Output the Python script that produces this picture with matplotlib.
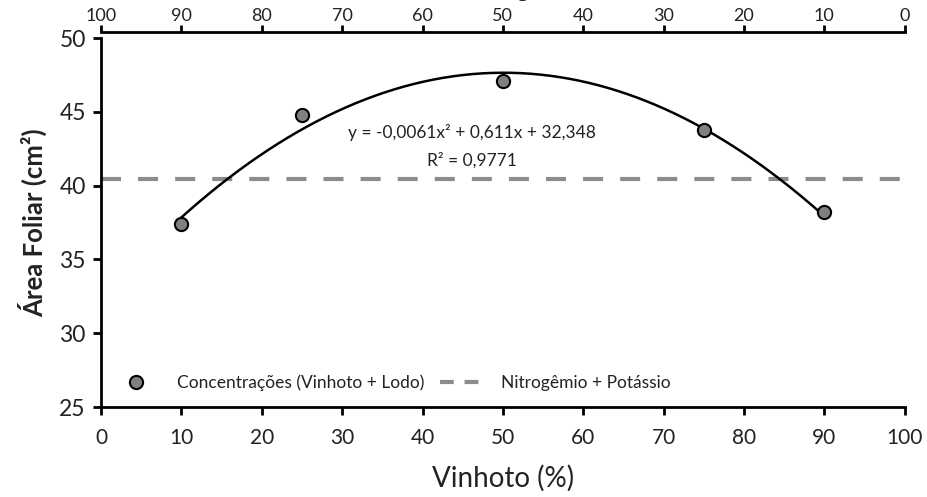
import numpy as np
import matplotlib.pyplot as plt
from matplotlib.lines import Line2D

plt.rcParams['font.family'] = ['Lato', 'DejaVu Sans']

# Data
vinhoto = [10, 25, 50, 75, 90]
area_foliar = [37.4, 44.8, 47.1, 43.8, 38.2]
n_k_level = 40.45
# Polynomial trendline coefficients shown on the chart
coef = [-0.0061, 0.611, 32.348]
top_ticks = [100, 90, 80, 70, 60, 50, 40, 30, 20, 10, 0]

fig = plt.figure(figsize=(9.27, 4.97), dpi=100)
ax = fig.add_axes([0.109, 0.181, 0.867, 0.7425])

# Trendline
xs = np.linspace(10, 90, 200)
ax.plot(xs, np.polyval(coef, xs), color='black', lw=1.8, zorder=3)

# Reference line
ax.axhline(n_k_level, color='#8c8c8c', lw=3, dashes=(4.8, 4.1), zorder=2)

# Points
pts, = ax.plot(vinhoto, area_foliar, 'o', ms=9.5, mfc='#808080', mec='black', mew=1.5,
    zorder=4)

ax.text(46.2, 43.6, 'y = -0,0061x² + 0,611x + 32,348', ha='center', va='center',
    fontsize=12.5, color='#222222')
ax.text(46.2, 41.7, 'R² = 0,9771', ha='center', va='center',
    fontsize=12.5, color='#222222')

ax.set_xlim(0, 100)
ax.set_ylim(25, 50)
ax.set_xticks(range(0, 101, 10))
ax.set_yticks(range(25, 51, 5))
ax.set_xlabel('Vinhoto (%)', fontsize=20, color='#222222', labelpad=12)
ax.set_ylabel('Área Foliar (cm²)', fontsize=18.5, fontweight='bold', color='#222222',
    labelpad=9)
ax.tick_params(labelsize=15, width=2, length=6, colors='black', labelcolor='#222222')
ax.tick_params(axis='x', pad=9)
ax.tick_params(axis='y', labelsize=16.5, pad=5)
for side in ['top', 'right']:
    ax.spines[side].set_visible(False)
for side in ['left', 'bottom']:
    ax.spines[side].set_linewidth(2)

dash_handle = Line2D([], [], color='#8c8c8c', lw=3, dashes=(3.3, 2.6))
ax.legend([pts, dash_handle],
    ['Concentrações (Vinhoto + Lodo)', 'Nitrogêmio + Potássio'],
    ncol=2, loc='lower left', bbox_to_anchor=(0.0, 0.0), frameon=False,
    fontsize=12.5, handlelength=2.2, handletextpad=1.3, columnspacing=0.9,
    labelcolor='#222222')

# Top axis (reversed)
ax2 = ax.twiny()
ax2.set_xlim(100, 0)
ax2.set_xticks(top_ticks)
for side in ['left', 'right', 'bottom']:
    ax2.spines[side].set_visible(False)
ax2.spines['top'].set_position(('outward', 4))
ax2.spines['top'].set_linewidth(2)
ax2.tick_params(labelsize=13, width=2, length=5, colors='black', labelcolor='#222222', pad=1)

# Top axis title, cut off by the top edge as in the original
fig.text(0.54, 1.008, 'Lodo de Esgoto (%)', ha='center', va='baseline',
    fontsize=18.5, color='#222222')

fig.savefig('out.png', dpi=100)
